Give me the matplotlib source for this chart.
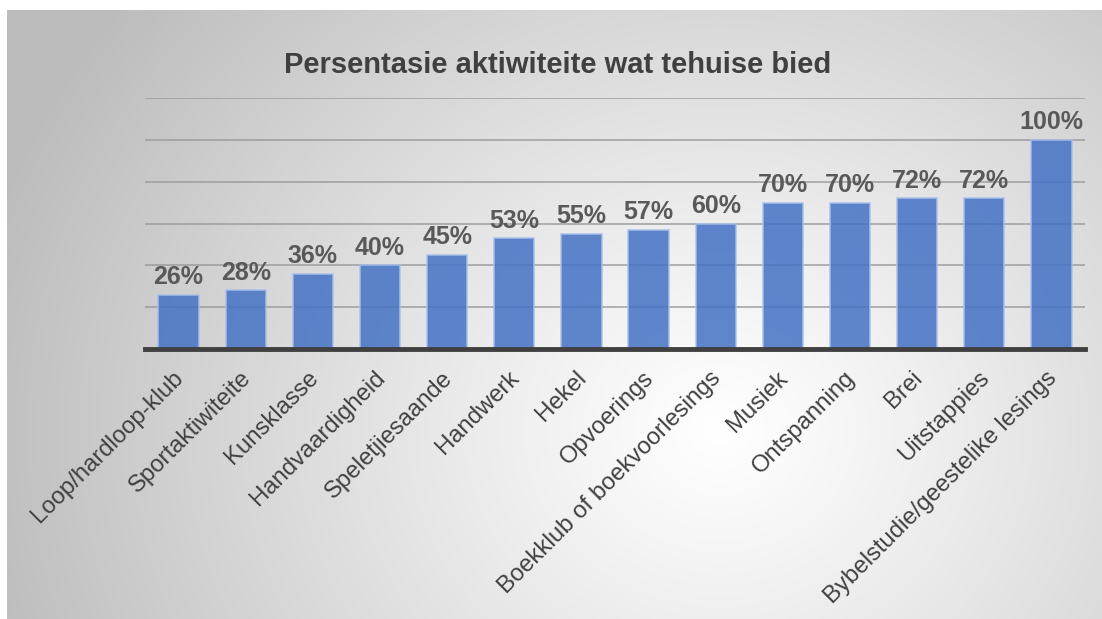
import numpy as np
import matplotlib
matplotlib.use("Agg")
import matplotlib.pyplot as plt
from matplotlib.transforms import ScaledTranslation

categories = ["Loop/hardloop-klub", "Sportaktiwiteite", "Kunsklasse", "Handvaardigheid",
              "Speletjiesaande", "Handwerk", "Hekel", "Opvoerings",
              "Boekklub of boekvoorlesings", "Musiek", "Ontspanning", "Brei",
              "Uitstappies", "Bybelstudie/geestelike lesings"]
values = [26, 28, 36, 40, 45, 53, 55, 57, 60, 70, 70, 72, 72, 100]
title = "Persentasie aktiwiteite wat tehuise bied"

plt.rcParams['font.family'] = ['Liberation Sans', 'DejaVu Sans']

W, H = 1102, 619
fig = plt.figure(figsize=(W / 100, H / 100), dpi=100)
fig.patch.set_facecolor('white')

# radial gradient background
bg = fig.add_axes([7 / W, 0, 1 - 7 / W, 1 - 10 / H], zorder=-5)
nx, ny = 600, 340
xx, yy = np.meshgrid(np.linspace(7, W, nx), np.linspace(10, H, ny))
cx, cy = 720, 430
r = np.sqrt(((xx - cx) / 1.0) ** 2 + ((yy - cy) / 0.9) ** 2)
rn = np.clip(r / 760, 0, 1)
val = 1.0 - 0.26 * rn ** 1.1
img = np.dstack([val, val, val])
bg.imshow(img, extent=[0, 1, 0, 1], aspect='auto', origin='upper', interpolation='bilinear')
bg.axis('off')

ax = fig.add_axes([145 / W, (H - 349) / H, (1085 - 145) / W, (349 - 98) / H])
ax.patch.set_alpha(0)
x = np.arange(len(categories))
ax.set_axisbelow(True)
ax.yaxis.grid(True, color='#9a9a9a', lw=1.3, alpha=0.8)
bars = ax.bar(x, values, width=0.6, color='#4472C4', alpha=0.85,
              edgecolor='#a9c0ea', linewidth=1.2, zorder=3)
ax.set_xlim(-0.5, len(categories) - 0.5)
ax.set_ylim(0, 120)
ax.set_yticks(np.arange(0, 121, 20))
ax.tick_params(axis='y', left=False, labelleft=False)
ax.set_xticks(x)
ax.tick_params(axis='x', bottom=False, labelbottom=False)
for s in ['top', 'right', 'left']:
    ax.spines[s].set_visible(False)
ax.spines['bottom'].set_color('#404040')
ax.spines['bottom'].set_linewidth(3.5)
ax.spines['bottom'].set_zorder(4)

lab_tr = ax.get_xaxis_transform() + ScaledTranslation(-6 / 100, -18 / 100, fig.dpi_scale_trans)
for xi, c in zip(x, categories):
    ax.text(xi, 0, c, transform=lab_tr, rotation=45, ha='right', va='top',
            rotation_mode='anchor', fontsize=17.2, color='#404040')

for xi, v in zip(x, values):
    ax.annotate(f"{v}%", (xi, v), xytext=(0, 4), textcoords='offset points',
                ha='center', va='bottom', fontsize=18, fontweight='bold', color='#595959')

fig.text(558 / W, 1 - 65 / H, title, ha='center', va='center', fontsize=21,
         fontweight='bold', color='#404040')

fig.savefig('out.png', dpi=100)
